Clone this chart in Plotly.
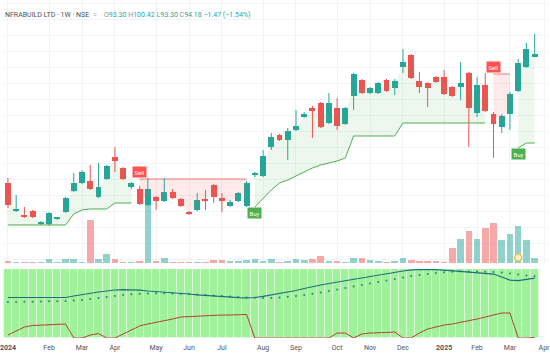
import plotly.graph_objects as go
import pandas as pd

# ---------------- data ----------------
n_bars = 65
dates = pd.date_range("2024-01-01", periods=n_bars, freq="7D")

open_ = [53.77, 45.02, 43.77, 45.02, 41.10, 40.96, 42.70, 44.71, 51.27, 53.77,
         54.40, 49.40, 55.02, 61.90, 58.46, 52.52, 51.90, 46.90, 49.40, 48.15,
         50.96, 48.77, 44.40, 45.34, 48.50, 53.15, 49.09, 46.59, 48.15, 46.59,
         56.30, 55.96, 65.02, 68.77, 67.21, 70.34, 74.40, 77.21, 78.77, 72.52,
         77.21, 72.21, 80.96, 85.96, 81.90, 81.90, 85.96, 83.46, 90.02, 93.77,
         85.65, 85.02, 86.90, 86.90, 83.77, 83.77, 88.15, 75.65, 84.40, 75.34,
         71.27, 75.34, 82.52, 90.02, 93.30]
high = [55.34, 50.02, 46.27, 45.34, 41.90, 44.71, 43.15, 49.40, 56.90, 57.84,
        59.40, 60.02, 59.40, 65.02, 58.77, 54.09, 52.84, 55.34, 49.71, 55.34,
        51.90, 49.09, 45.02, 50.65, 51.59, 53.46, 50.65, 48.46, 50.96, 54.40,
        57.21, 64.09, 69.40, 69.09, 70.96, 76.59, 75.96, 77.84, 79.09, 81.90,
        80.34, 77.52, 88.15, 86.27, 83.77, 85.34, 86.27, 86.27, 95.65, 94.09,
        88.46, 85.34, 87.21, 89.09, 84.09, 91.59, 88.46, 86.90, 88.15, 75.96,
        75.34, 82.21, 92.52, 97.52, 100.42]
low = [45.96, 44.71, 42.84, 42.84, 40.65, 40.34, 42.21, 44.40, 50.96, 53.46,
       51.59, 49.09, 54.71, 57.21, 54.71, 51.90, 46.90, 46.59, 45.34, 47.84,
       48.77, 46.27, 43.77, 45.02, 45.34, 47.52, 44.71, 46.27, 47.84, 46.27,
       55.65, 55.65, 64.09, 66.90, 60.96, 70.02, 74.09, 67.84, 70.96, 72.21,
       70.34, 71.90, 76.59, 81.59, 81.59, 81.59, 82.21, 81.27, 88.15, 86.27,
       81.90, 77.52, 85.02, 81.27, 80.65, 79.71, 65.02, 74.40, 75.96, 61.59,
       69.40, 70.34, 82.21, 89.71, 93.30]
close = [46.90, 45.65, 43.15, 43.15, 41.50, 44.40, 43.00, 49.09, 53.77, 57.21,
         51.90, 52.52, 59.09, 60.65, 55.02, 53.77, 47.21, 51.90, 48.15, 50.96,
         49.09, 46.59, 44.09, 48.46, 48.30, 49.40, 48.15, 47.84, 50.65, 53.77,
         56.70, 62.21, 68.15, 67.21, 70.02, 71.59, 75.34, 76.27, 71.27, 78.77,
         71.59, 77.21, 87.83, 81.90, 83.46, 85.02, 82.52, 85.65, 91.59, 86.59,
         83.77, 83.46, 85.34, 81.59, 80.96, 85.02, 77.21, 84.40, 76.27, 72.21,
         74.71, 81.59, 91.27, 95.65, 94.18]
volume_k = [20, 15, 15, 10, 10, 40, 10, 40, 40, 10,
            430, 40, 90, 40, 15, 15, 20, 580, 20, 50,
            15, 15, 10, 15, 10, 30, 30, 20, 25, 30,
            40, 20, 40, 10, 20, 40, 30, 40, 70, 20,
            20, 10, 50, 50, 30, 20, 10, 20, 50, 30,
            20, 20, 20, 15, 150, 240, 320, 240, 350, 400,
            230, 290, 370, 230, 50]

# SuperTrend line and direction (1 = up / buy, -1 = down / sell)
st_value = [40.65, 40.65, 40.65, 40.65, 40.65, 40.65, 40.65, 40.65, 44.09, 45.34,
            45.65, 45.65, 45.65, 47.52, 47.52, 47.52, 55.02, 55.02, 55.02, 55.02,
            55.02, 55.02, 55.02, 55.02, 55.02, 55.02, 55.02, 55.02, 55.02, 55.02,
            46.27, 49.09, 51.59, 53.77, 54.71, 55.96, 57.21, 58.46, 59.40, 60.02,
            60.65, 61.59, 68.46, 68.46, 68.46, 68.46, 68.46, 68.46, 72.52, 72.52,
            72.52, 72.52, 72.52, 72.52, 72.52, 72.52, 72.52, 72.52, 72.52, 87.83,
            87.83, 87.83, 64.71, 66.27, 66.27]
st_dir = [1] * 16 + [-1] * 14 + [1] * 29 + [-1] * 3 + [1] * 3

# Lower pane oscillator (0-100)
osc_line = [58.7, 58.7, 58.7, 58.7, 58.7, 58.7, 58.7, 58.7, 60.9, 63.0,
            64.5, 66.7, 68.1, 69.6, 70.0, 70.0, 69.3, 68.1, 67.4, 66.7,
            65.9, 64.9, 63.8, 62.6, 61.6, 60.6, 59.7, 59.0, 58.6, 58.3,
            58.7, 60.4, 62.3, 64.5, 66.7, 68.8, 71.7, 74.6, 76.8, 79.0,
            81.1, 82.3, 84.8, 87.2, 89.4, 91.3, 93.0, 94.9, 97.1, 98.8,
            99.3, 99.3, 99.0, 98.5, 97.8, 96.6, 95.6, 94.5, 93.5, 92.7,
            88.4, 84.0, 83.3, 85.5, 86.9]
osc_signal = [52.2, 52.2, 52.5, 52.7, 52.9, 53.2, 53.3, 53.6, 54.3, 55.1,
              56.5, 58.0, 59.4, 60.9, 62.3, 63.3, 64.0, 64.5, 64.8, 64.8,
              64.6, 64.3, 63.8, 63.0, 62.3, 61.6, 60.9, 60.1, 59.4, 58.8,
              58.3, 58.0, 58.0, 58.7, 59.7, 60.9, 62.3, 64.0, 65.9, 68.1,
              70.3, 72.5, 74.6, 76.8, 79.0, 81.1, 83.3, 85.5, 87.7, 89.8,
              91.3, 92.7, 94.2, 95.2, 95.9, 96.4, 96.5, 96.4, 96.1, 95.6,
              94.9, 93.5, 92.0, 90.6, 89.4]
osc_count = [4.3, 10.1, 15.9, 18.1, 18.8, 19.6, 20.3, 20.3, 0.0, 0.0,
             4.3, 6.5, 0.0, 0.0, 5.8, 11.6, 17.4, 20.3, 22.5, 24.6,
             27.5, 30.4, 31.2, 31.9, 32.6, 33.0, 33.3, 33.3, 34.1, 34.1,
             0.0, 0.0, 0.0, 0.0, 0.0, 0.0, 0.0, 0.0, 0.0, 0.0,
             7.2, 7.2, 0.0, 5.8, 7.2, 7.2, 8.0, 8.7, 0.0, 0.0,
             7.2, 13.0, 15.9, 18.8, 20.3, 22.5, 24.6, 27.5, 30.4, 33.3,
             36.2, 36.2, 0.0, 0.0, 0.7]

tick_dates = ["2024-01-01", "2024-02-05", "2024-03-04", "2024-04-01", "2024-05-06",
              "2024-06-03", "2024-07-01", "2024-08-05", "2024-09-02", "2024-10-07",
              "2024-11-04", "2024-12-02", "2025-01-06", "2025-02-03", "2025-03-03",
              "2025-04-01"]
tick_text = ["<b>2024</b>", "Feb", "Mar", "Apr", "May", "Jun", "Jul", "Aug", "Sep", "Oct",
             "Nov", "Dec", "<b>2025</b>", "Feb", "Mar", "Apr"]

# ---------------- styles ----------------
UP = "#26a69a"
DN = "#ef5350"
UP_VOL = "rgba(38,166,154,0.5)"
DN_VOL = "rgba(239,83,80,0.5)"
DAY_MS = 86400000
W_BODY = 7 * DAY_MS * 0.72
W_VOL = 7 * DAY_MS * 0.80
W_BG = 7 * DAY_MS

fig = go.Figure()

is_up = [c >= o for o, c in zip(open_, close)]

# volume
fig.add_trace(go.Bar(x=dates, y=volume_k, width=W_VOL,
                     marker=dict(color=[UP_VOL if u else DN_VOL for u in is_up], line=dict(width=0)),
                     yaxis="y3", xaxis="x2", hoverinfo="skip", showlegend=False))

# supertrend fills + lines
body_mid = [(o + c) / 2 for o, c in zip(open_, close)]
segs = []
s = 0
for i in range(1, n_bars + 1):
    if i == n_bars or st_dir[i] != st_dir[s]:
        segs.append((s, i - 1, st_dir[s]))
        s = i
for a, b, d in segs:
    xs = dates[a:b + 1]
    fill_col = "rgba(76,175,80,0.10)" if d == 1 else "rgba(255,82,82,0.12)"
    line_col = "#4caf50" if d == 1 else "#f07b7b"
    fig.add_trace(go.Scatter(x=xs, y=body_mid[a:b + 1], mode="lines", line=dict(width=0),
                             xaxis="x2", yaxis="y", hoverinfo="skip", showlegend=False))
    fig.add_trace(go.Scatter(x=xs, y=st_value[a:b + 1], mode="lines",
                             line=dict(color=line_col, width=1), fill="tonexty", fillcolor=fill_col,
                             xaxis="x2", yaxis="y", hoverinfo="skip", showlegend=False))
    if a > 0:
        if d == 1:
            fig.add_annotation(x=dates[a], y=st_value[a], xref="x2", yref="y", text="Buy",
                               showarrow=False, yshift=-6, bgcolor="#4caf50",
                               font=dict(size=6, color="white", family="Roboto"), borderpad=1.5)
        else:
            fig.add_annotation(x=dates[a], y=st_value[a], xref="x2", yref="y", text="Sell",
                               showarrow=False, yshift=7, bgcolor="#ff5252",
                               font=dict(size=6, color="white", family="Roboto"), borderpad=1.5)

# wicks
for up_flag, col in ((True, UP), (False, DN)):
    wx, wy = [], []
    for i in range(n_bars):
        if is_up[i] == up_flag:
            wx += [dates[i], dates[i], None]
            wy += [high[i], low[i], None]
    fig.add_trace(go.Scatter(x=wx, y=wy, mode="lines", line=dict(color=col, width=1),
                             xaxis="x2", yaxis="y", hoverinfo="skip", showlegend=False))

# bodies
body_base = [min(o, c) for o, c in zip(open_, close)]
body_h = [max(abs(c - o), 0.35) for o, c in zip(open_, close)]
fig.add_trace(go.Bar(x=dates, y=body_h, base=body_base, width=W_BODY,
                     marker=dict(color=[UP if u else DN for u in is_up], line=dict(width=0)),
                     xaxis="x2", yaxis="y", hoverinfo="skip", showlegend=False))

# earnings marker in volume area
fig.add_trace(go.Scatter(x=[dates[62]], y=[55], mode="markers",
                         marker=dict(size=7, color="#fff3c4", line=dict(color="#f5b335", width=1.2)),
                         xaxis="x2", yaxis="y3", hoverinfo="skip", showlegend=False))

# lower pane background
fig.add_trace(go.Bar(x=dates, y=[100] * n_bars, base=0, width=W_BG,
                     marker=dict(color="#9ff29a", line=dict(color="rgba(255,255,255,0.55)", width=0.8)),
                     xaxis="x", yaxis="y2", hoverinfo="skip", showlegend=False))
fig.add_trace(go.Scatter(x=dates, y=osc_count, mode="lines", line=dict(color="#b5402c", width=1),
                         xaxis="x", yaxis="y2", hoverinfo="skip", showlegend=False))
fig.add_trace(go.Scatter(x=dates, y=osc_signal, mode="markers",
                         marker=dict(color="#2f7f83", size=2),
                         xaxis="x", yaxis="y2", hoverinfo="skip", showlegend=False))
fig.add_trace(go.Scatter(x=dates, y=osc_line, mode="lines", line=dict(color="#1f6f7a", width=1.2),
                         xaxis="x", yaxis="y2", hoverinfo="skip", showlegend=False))

# header text
fig.add_annotation(xref="paper", yref="paper", x=0, y=0.955, xanchor="left", yanchor="middle",
                   text="NFRABUILD LTD · 1W · NSE", showarrow=False,
                   font=dict(size=7, color="#4b4f5c", family="Roboto"))
fig.add_annotation(xref="paper", yref="paper", x=0.162, y=0.955, xanchor="left", yanchor="middle",
                   text="=", showarrow=False, font=dict(size=7, color="#9aa0a6", family="Roboto"))
G = "<span style='color:#8a8f99'>"
T = "<span style='color:#26a69a'>"
fig.add_annotation(xref="paper", yref="paper", x=0.182, y=0.955, xanchor="left", yanchor="middle",
                   text=(f"{G}O</span>{T}93.30</span> {G}H</span>{T}100.42</span> "
                         f"{G}L</span>{T}93.30</span> {G}C</span>{T}94.18 −1.47 (−1.54%)</span>"),
                   showarrow=False, font=dict(size=7, color="#26a69a", family="Roboto"))

x_range = ["2023-12-27 19:12", "2025-04-05 04:48"]
fig.update_layout(
    width=550, height=360,
    margin=dict(l=0, r=0, t=0, b=22),
    paper_bgcolor="white", plot_bgcolor="white",
    bargap=0, barmode="overlay",
    xaxis=dict(domain=[0, 1], anchor="y2", range=x_range, type="date",
               tickvals=tick_dates, ticktext=tick_text, showgrid=False, zeroline=False,
               ticks="", ticklabeloverflow="allow", ticklabelstandoff=4,
               tickfont=dict(size=7, color="#50535e", family="Roboto"), showline=False),
    xaxis2=dict(domain=[0, 1], anchor="y", matches="x", type="date", range=x_range,
                tickvals=tick_dates, showticklabels=False, showgrid=True,
                gridcolor="#f1f3f7", gridwidth=1, zeroline=False, ticks=""),
    yaxis=dict(domain=[0.2219, 1], anchor="x2", range=[28.77, 110.96], dtick=5, tick0=0,
               showticklabels=False, showgrid=True, gridcolor="#f1f3f7", zeroline=False),
    yaxis3=dict(domain=[0.2219, 1], anchor="x2", overlaying="y", range=[0, 2630],
                showticklabels=False, showgrid=False, zeroline=False),
    yaxis2=dict(domain=[0, 0.2041], anchor="x", range=[0, 100], showticklabels=False,
                showgrid=False, zeroline=False),
)

fig.write_html("out.html", config={"displayModeBar": False},
               post_script="document.body.style.margin='0px';")
